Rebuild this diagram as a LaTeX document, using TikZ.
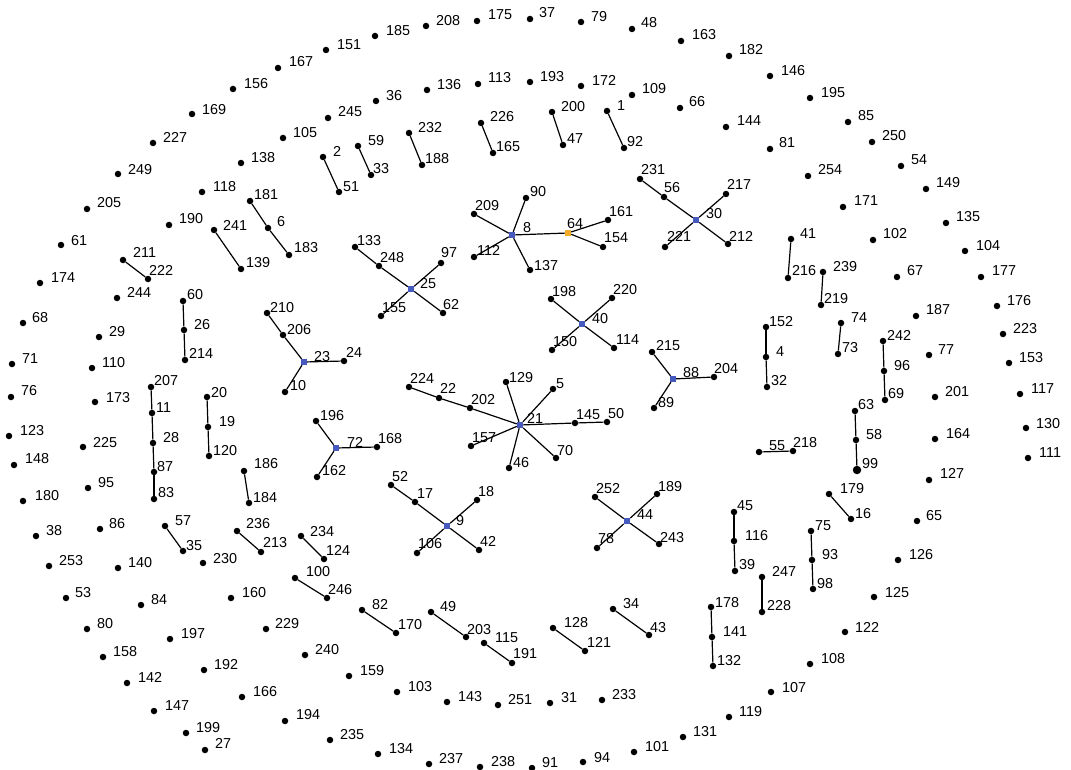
\documentclass[tikz,border=0pt]{standalone}
\usepackage{fontspec}
\setmainfont{Liberation Sans}
\definecolor{hubblue}{RGB}{70,90,190}
\definecolor{huborange}{RGB}{245,170,40}
\tikzset{
  dot/.style={circle,fill=black,inner sep=0pt,minimum size=6.5pt},
  bigdot/.style={circle,fill=black,inner sep=0pt,minimum size=8.5pt},
  hub/.style={rectangle,fill=hubblue,inner sep=0pt,minimum size=6pt},
  hubo/.style={rectangle,fill=huborange,inner sep=0pt,minimum size=6pt},
  lbl/.style={anchor=base west,inner sep=0pt,font=\fontsize{14.4}{16}\selectfont,text=black},
  edge/.style={line width=1.2pt,black}
}
\newcommand\mkv[6][dot]{\node[#1] (n#2) at (#3,#4) {}; \node[lbl] (l#2) at (#5,#6) {#2};}
\newcommand\mke[2]{\draw[edge] (n#1) -- (n#2);}
\begin{document}
\begin{tikzpicture}[x=1pt,y=-1pt]
\useasboundingbox[fill=white] (0,0) rectangle (1071,770);
% outer / isolated nodes
\mkv{156}{233}{89}{244}{89}
\mkv{169}{192}{114}{202}{115}
\mkv{227}{153}{143}{163}{143}
\mkv{249}{118}{174}{128}{175}
\mkv{205}{87}{209}{97}{208}
\mkv{61}{61}{245}{71}{245}
\mkv{174}{40}{283}{51}{283}
\mkv{68}{23}{323}{32}{322}
\mkv{71}{12}{364}{22}{363}
\mkv{76}{11}{397}{21}{395}
\mkv{123}{9}{436}{20}{435}
\mkv{148}{14}{465}{25}{463}
\mkv{180}{23}{501}{35}{500}
\mkv{38}{36}{536}{46}{535}
\mkv{253}{49}{566}{59}{565}
\mkv{53}{66}{598}{75}{597}
\mkv{80}{87}{629}{97}{628}
\mkv{158}{103}{657}{113}{656}
\mkv{142}{127}{683}{138}{682}
\mkv{147}{154}{711}{165}{710}
\mkv{199}{186}{733}{196}{732}
\mkv{27}{205}{750}{215}{748}
\mkv{167}{278}{68}{289}{67}
\mkv{151}{326}{50}{337}{50}
\mkv{185}{375}{36}{386}{36}
\mkv{208}{426}{26}{436}{26}
\mkv{175}{477}{21}{488}{20}
\mkv{37}{530}{19}{539}{18}
\mkv{79}{581}{22}{591}{22}
\mkv{48}{632}{29}{641}{28}
\mkv{163}{681}{41}{692}{40}
\mkv{182}{729}{56}{739}{55}
\mkv{146}{770}{76}{781}{76}
\mkv{195}{810}{98}{821}{98}
\mkv{85}{848}{122}{858}{121}
\mkv{250}{872}{142}{882}{141}
\mkv{54}{901}{166}{911}{165}
\mkv{149}{926}{189}{936}{188}
\mkv{135}{946}{223}{956}{222}
\mkv{104}{965}{251}{976}{251}
\mkv{177}{981}{277}{992}{276}
\mkv{176}{997}{306}{1007}{305}
\mkv{223}{1003}{334}{1013}{333}
\mkv{153}{1009}{363}{1019}{362}
\mkv{117}{1020}{394}{1031}{393}
\mkv{130}{1026}{428}{1036}{428}
\mkv{111}{1028}{458}{1039}{457}
\mkv{235}{330}{740}{340}{739}
\mkv{134}{378}{754}{389}{753}
\mkv{237}{429}{764}{439}{763}
\mkv{238}{480}{767}{491}{766}
\mkv{91}{532}{768}{542}{767}
\mkv{94}{583}{762}{594}{762}
\mkv{101}{634}{752}{645}{751}
\mkv{131}{683}{737}{693}{736}
\mkv{119}{729}{717}{739}{716}
\mkv{107}{771}{692}{782}{692}
\mkv{108}{810}{664}{821}{663}
\mkv{122}{845}{632}{855}{632}
\mkv{125}{874}{597}{885}{597}
\mkv{126}{898}{560}{909}{559}
\mkv{65}{917}{521}{926}{520}
\mkv{127}{929}{480}{940}{478}
\mkv{164}{935}{439}{946}{438}
\mkv{201}{935}{397}{945}{396}
\mkv{77}{929}{355}{938}{354}
\mkv{187}{916}{316}{926}{314}
\mkv{67}{897}{277}{907}{276}
\mkv{102}{873}{240}{883}{239}
\mkv{171}{843}{207}{854}{206}
\mkv{254}{808}{176}{818}{175}
\mkv{81}{770}{149}{779}{148}
\mkv{144}{726}{127}{737}{126}
\mkv{66}{680}{108}{689}{107}
\mkv{109}{632}{95}{642}{94}
\mkv{172}{581}{86}{592}{86}
\mkv{193}{530}{82}{540}{82}
\mkv{113}{478}{84}{488}{83}
\mkv{136}{427}{90}{437}{90}
\mkv{36}{376}{101}{386}{101}
\mkv{245}{328}{118}{338}{117}
\mkv{105}{283}{138}{293}{138}
\mkv{138}{241}{163}{251}{163}
\mkv{118}{202}{192}{213}{192}
\mkv{190}{169}{225}{179}{224}
\mkv{244}{117}{298}{127}{297}
\mkv{29}{99}{337}{109}{336}
\mkv{110}{92}{368}{102}{367}
\mkv{173}{95}{402}{106}{402}
\mkv{225}{83}{447}{93}{447}
\mkv{95}{88}{488}{98}{487}
\mkv{86}{100}{529}{109}{528}
\mkv{140}{118}{568}{128}{567}
\mkv{84}{141}{605}{151}{604}
\mkv{197}{170}{639}{181}{638}
\mkv{192}{204}{670}{214}{669}
\mkv{166}{242}{697}{253}{696}
\mkv{194}{285}{721}{296}{719}
\mkv{159}{349}{676}{360}{675}
\mkv{240}{305}{655}{315}{654}
\mkv{229}{266}{629}{275}{628}
\mkv{160}{231}{598}{242}{597}
\mkv{230}{203}{563}{213}{563}
\mkv{103}{397}{692}{408}{691}
\mkv{143}{447}{702}{458}{701}
\mkv{251}{498}{705}{508}{704}
\mkv{31}{550}{703}{561}{702}
\mkv{233}{602}{700}{612}{699}
% pairs and chains
\mkv{2}{323}{157}{333}{157}
\mkv{51}{339}{192}{343}{192}
\mkv{59}{358}{146}{368}{146}
\mkv{33}{371}{175}{373}{174}
\mkv{232}{409}{133}{418}{133}
\mkv{188}{422}{165}{425}{164}
\mkv{226}{481}{123}{490}{122}
\mkv{165}{493}{153}{496}{152}
\mkv{200}{552}{112}{561}{112}
\mkv{47}{563}{145}{567}{144}
\mkv{1}{607}{111}{617}{111}
\mkv{92}{624}{148}{627}{147}
\mkv{181}{250}{201}{254}{200}
\mkv{6}{268}{228}{277}{227}
\mkv{183}{289}{255}{294}{253}
\mkv{241}{214}{230}{223}{230}
\mkv{139}{241}{269}{246}{267}
\mkv{211}{123}{260}{133}{258}
\mkv{222}{148}{279}{149}{275}
\mkv{60}{183}{301}{187}{299}
\mkv{26}{184}{330}{194}{329}
\mkv{214}{185}{360}{189}{358}
\mkv{207}{151}{387}{154}{385}
\mkv{11}{152}{413}{156}{412}
\mkv{28}{153}{443}{163}{442}
\mkv{87}{154}{472}{157}{471}
\mkv{83}{154}{499}{158}{497}
\mkv{20}{207}{397}{211}{397}
\mkv{19}{208}{427}{219}{426}
\mkv{120}{209}{456}{213}{455}
\mkv{186}{244}{471}{254}{468}
\mkv{184}{249}{503}{253}{502}
\mkv{57}{165}{526}{175}{525}
\mkv{35}{183}{551}{186}{550}
\mkv{236}{237}{531}{246}{528}
\mkv{213}{261}{552}{263}{547}
\mkv{234}{301}{536}{310}{536}
\mkv{124}{324}{559}{326}{555}
\mkv{100}{295}{578}{306}{576}
\mkv{246}{327}{598}{328}{594}
\mkv{82}{362}{610}{372}{609}
\mkv{170}{396}{633}{398}{629}
\mkv{49}{431}{612}{440}{611}
\mkv{203}{466}{637}{467}{634}
\mkv{115}{484}{643}{495}{642}
\mkv{191}{512}{663}{513}{658}
\mkv{128}{553}{628}{564}{627}
\mkv{121}{585}{651}{587}{647}
\mkv{34}{613}{609}{623}{608}
\mkv{43}{649}{635}{650}{632}
\mkv{178}{711}{607}{715}{607}
\mkv{141}{712}{637}{723}{636}
\mkv{132}{713}{666}{717}{665}
\mkv{45}{734}{512}{737}{510}
\mkv{116}{734}{541}{745}{540}
\mkv{39}{735}{571}{739}{569}
\mkv{247}{762}{577}{772}{576}
\mkv{228}{762}{612}{767}{610}
\mkv{75}{811}{531}{815}{530}
\mkv{93}{812}{560}{822}{559}
\mkv{98}{813}{589}{817}{588}
\mkv{179}{829}{494}{840}{493}
\mkv{16}{851}{519}{855}{518}
\mkv{63}{855}{411}{858}{409}
\mkv{58}{856}{440}{866}{439}
\mkv[bigdot]{99}{857}{470}{862}{468}
\mkv{242}{883}{341}{887}{340}
\mkv{96}{884}{371}{894}{370}
\mkv{69}{885}{400}{888}{398}
\mkv{74}{841}{323}{851}{322}
\mkv{73}{838}{354}{842}{352}
\mkv{239}{823}{272}{833}{272}
\mkv{219}{821}{305}{824}{303}
\mkv{41}{791}{239}{800}{239}
\mkv{216}{788}{278}{792}{275}
\mkv{152}{766}{327}{769}{326}
\mkv{4}{766}{357}{776}{356}
\mkv{32}{767}{387}{771}{385}
\mkv{55}{759}{452}{769}{450}
\mkv{218}{793}{451}{793}{447}
% stars
\mkv[hub]{8}{512}{235}{523}{233}
\mkv{209}{474}{214}{475}{211}
\mkv{90}{526}{198}{530}{197}
\mkv{112}{474}{257}{477}{255}
\mkv{137}{530}{270}{534}{270}
\mkv[hubo]{64}{568}{233}{567}{229}
\mkv{161}{608}{220}{609}{217}
\mkv{154}{603}{247}{604}{243}
\mkv[hub]{30}{696}{220}{706}{219}
\mkv{56}{664}{197}{664}{193}
\mkv{231}{640}{179}{641}{175}
\mkv{217}{726}{194}{727}{190}
\mkv{221}{665}{247}{667}{242}
\mkv{212}{728}{244}{729}{241}
\mkv[hub]{25}{411}{289}{420}{288}
\mkv{248}{379}{266}{380}{262}
\mkv{133}{355}{247}{357}{245}
\mkv{97}{441}{263}{441}{258}
\mkv{155}{381}{316}{382}{312}
\mkv{62}{443}{313}{443}{309}
\mkv[hub]{40}{582}{324}{592}{323}
\mkv{198}{551}{299}{552}{296}
\mkv{220}{612}{298}{613}{294}
\mkv{150}{552}{350}{553}{346}
\mkv{114}{614}{348}{616}{344}
\mkv[hub]{23}{304}{362}{314}{361}
\mkv{206}{283}{335}{287}{334}
\mkv{210}{267}{313}{270}{312}
\mkv{24}{344}{361}{346}{357}
\mkv{10}{285}{392}{290}{390}
\mkv[hub]{88}{673}{379}{683}{377}
\mkv{215}{652}{352}{656}{350}
\mkv{204}{714}{377}{714}{373}
\mkv{89}{654}{408}{658}{407}
\mkv[hub]{21}{520}{425}{527}{423}
\mkv{202}{470}{408}{471}{404}
\mkv{22}{439}{398}{440}{393}
\mkv{224}{409}{387}{410}{383}
\mkv{129}{506}{382}{509}{382}
\mkv{5}{553}{389}{556}{388}
\mkv{145}{575}{423}{576}{419}
\mkv{50}{607}{422}{608}{418}
\mkv{157}{471}{446}{472}{442}
\mkv{46}{509}{468}{513}{467}
\mkv{70}{556}{458}{557}{455}
\mkv[hub]{72}{336}{448}{347}{447}
\mkv{196}{316}{421}{320}{420}
\mkv{168}{377}{447}{378}{443}
\mkv{162}{317}{477}{322}{475}
\mkv[hub]{9}{447}{526}{456}{525}
\mkv{17}{415}{502}{417}{498}
\mkv{52}{391}{485}{392}{481}
\mkv{18}{477}{500}{478}{496}
\mkv{106}{417}{553}{418}{548}
\mkv{42}{479}{550}{480}{546}
\mkv[hub]{44}{627}{521}{637}{519}
\mkv{252}{595}{497}{596}{493}
\mkv{189}{657}{494}{658}{491}
\mkv{78}{597}{548}{598}{543}
\mkv{243}{659}{544}{660}{542}
% edges
\mke{2}{51}\mke{59}{33}\mke{232}{188}\mke{226}{165}\mke{200}{47}\mke{1}{92}
\mke{181}{6}\mke{6}{183}\mke{241}{139}\mke{211}{222}
\mke{60}{26}\mke{26}{214}
\mke{207}{11}\mke{11}{28}\mke{28}{87}\mke{87}{83}
\mke{20}{19}\mke{19}{120}\mke{186}{184}\mke{57}{35}\mke{236}{213}
\mke{234}{124}\mke{100}{246}\mke{82}{170}\mke{49}{203}\mke{115}{191}
\mke{128}{121}\mke{34}{43}
\mke{178}{141}\mke{141}{132}\mke{45}{116}\mke{116}{39}\mke{247}{228}
\mke{75}{93}\mke{93}{98}\mke{179}{16}
\mke{63}{58}\mke{58}{99}\mke{242}{96}\mke{96}{69}\mke{74}{73}
\mke{239}{219}\mke{41}{216}\mke{152}{4}\mke{4}{32}\mke{55}{218}
\mke{8}{209}\mke{8}{90}\mke{8}{112}\mke{8}{137}\mke{8}{64}\mke{64}{161}\mke{64}{154}
\mke{30}{56}\mke{56}{231}\mke{30}{217}\mke{30}{221}\mke{30}{212}
\mke{25}{248}\mke{248}{133}\mke{25}{97}\mke{25}{155}\mke{25}{62}
\mke{40}{198}\mke{40}{220}\mke{40}{150}\mke{40}{114}
\mke{23}{206}\mke{206}{210}\mke{23}{24}\mke{23}{10}
\mke{88}{215}\mke{88}{204}\mke{88}{89}
\mke{21}{202}\mke{202}{22}\mke{22}{224}\mke{21}{129}\mke{21}{5}
\mke{21}{145}\mke{145}{50}\mke{21}{157}\mke{21}{46}\mke{21}{70}
\mke{72}{196}\mke{72}{168}\mke{72}{162}
\mke{9}{17}\mke{17}{52}\mke{9}{18}\mke{9}{106}\mke{9}{42}
\mke{44}{252}\mke{44}{189}\mke{44}{78}\mke{44}{243}
\end{tikzpicture}
\end{document}
